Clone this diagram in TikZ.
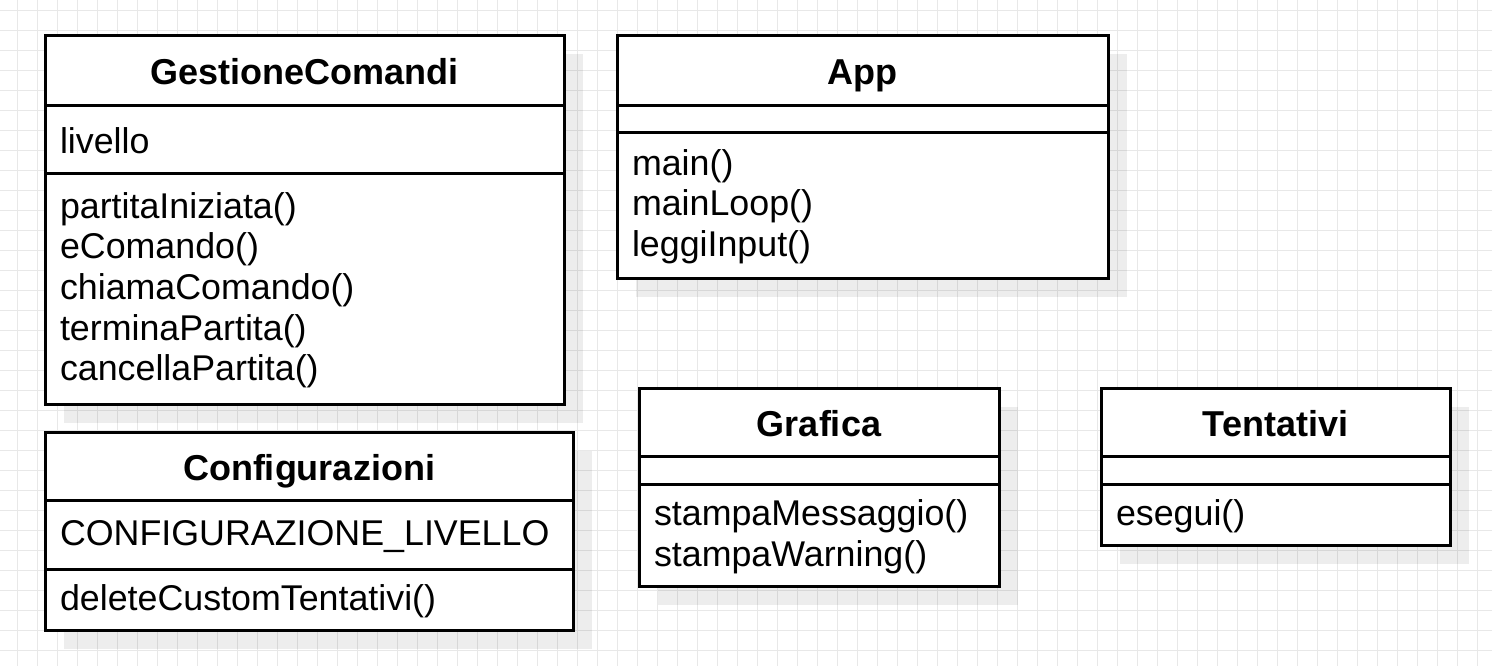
\documentclass[tikz,border=0pt]{standalone}
\usepackage{fontspec}
\setmainfont{Liberation Sans}
\usetikzlibrary{positioning,shadows}
\colorlet{gridgray}{black!9}

\begin{document}
\begin{tikzpicture}[x=0.5pt,y=-0.5pt]
\tikzset{
  umlshadow/.style={drop shadow={shadow xshift=9.5pt, shadow yshift=-9.5pt, fill=black, opacity=0.07}},
  umlhead/.style={draw, line width=1.5pt, fill=white, outer sep=0pt, inner sep=0pt, anchor=north west,
    text height=14pt, text depth=0pt, font=\bfseries\fontsize{18}{20.3}\selectfont, umlshadow},
  umlpart/.style={draw, line width=1.5pt, fill=white, outer sep=0pt, inner xsep=7.5pt, inner ysep=0pt,
    align=left, below=0pt of #1, text height=14.6pt, font=\fontsize{17.9}{20.3}\selectfont, umlshadow},
  umlgap/.style={umlpart=#1, text height=0pt},
  gridline/.style={draw=gridgray, line width=0.5pt}
}
\useasboundingbox[fill=white] (0,0) rectangle (1492,666);
\foreach \x in {17,37,...,1477} \draw[gridline] (\x,0) -- (\x,666);
\foreach \y in {10,30,...,650} \draw[gridline] (0,\y) -- (1492,\y);

% GestioneComandi
\node[umlhead, minimum width=259.5pt, minimum height=35pt] (gcHead) at (45,35) {GestioneComandi};
\node[umlpart=gcHead, text width=244.5pt, minimum height=34pt] (gcAttr) {livello};
\node[umlpart=gcAttr, text width=244.5pt, minimum height=115.5pt] (gcOps)
  {partitaIniziata()\\eComando()\\chiamaComando()\\terminaPartita()\\cancellaPartita()};

% App
\node[umlhead, minimum width=245.5pt, minimum height=35pt] (appHead) at (617,35) {App};
\node[umlgap=appHead, text width=230.5pt, minimum height=13.5pt] (appAttr) {};
\node[umlpart=appAttr, text width=230.5pt, minimum height=73pt] (appOps)
  {main()\\mainLoop()\\leggiInput()};

% Configurazioni
\node[umlhead, minimum width=264pt, minimum height=34pt] (cfgHead) at (45,432) {Configurazioni};
\node[umlpart=cfgHead, text width=249pt, minimum height=34.5pt] (cfgAttr) {CONFIGURAZIONE\_LIVELLO};
\node[umlpart=cfgAttr, text width=249pt, minimum height=30.5pt] (cfgOps) {deleteCustomTentativi()};

% Grafica
\node[umlhead, minimum width=180pt, minimum height=34pt] (grfHead) at (639,388) {Grafica};
\node[umlgap=grfHead, text width=165pt, minimum height=14pt] (grfAttr) {};
\node[umlpart=grfAttr, text width=165pt, minimum height=51pt] (grfOps)
  {stampaMessaggio()\\stampaWarning()};

% Tentativi
\node[umlhead, minimum width=174.5pt, minimum height=34pt] (tntHead) at (1101,388) {Tentativi};
\node[umlgap=tntHead, text width=159.5pt, minimum height=14pt] (tntAttr) {};
\node[umlpart=tntAttr, text width=159.5pt, minimum height=30.5pt] (tntOps) {esegui()};
\end{tikzpicture}
\end{document}
